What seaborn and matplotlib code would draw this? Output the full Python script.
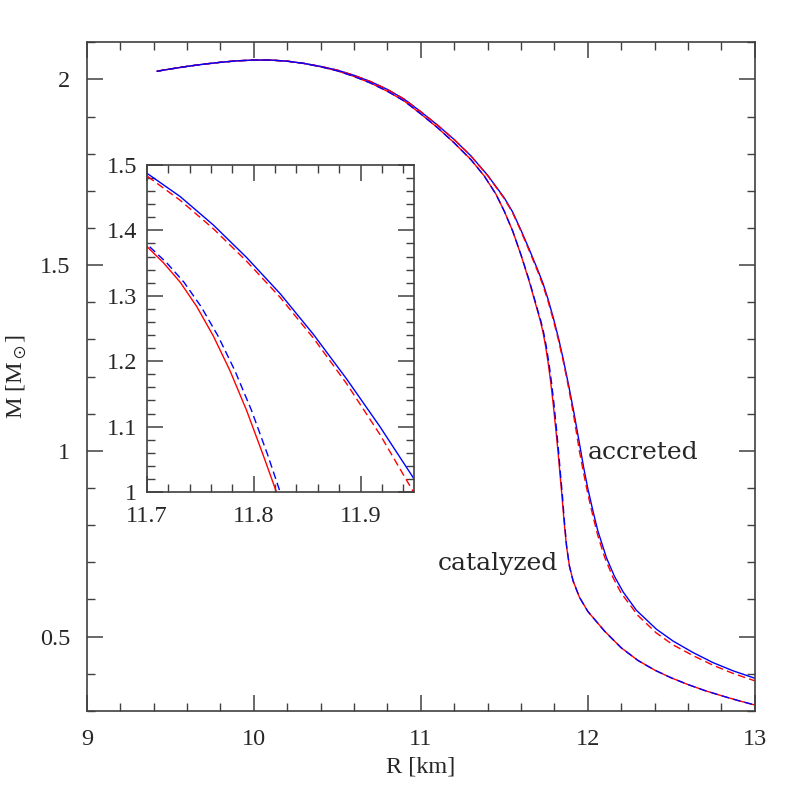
import matplotlib
matplotlib.use("Agg")
import matplotlib.pyplot as plt
from matplotlib.ticker import MultipleLocator, FuncFormatter
import seaborn as sns
import pandas as pd

# catalyzed crust: solid red / dashed blue
cat_r_solid = [9.42, 9.5, 9.6, 9.7, 9.8, 9.9, 10.0, 10.1, 10.2, 10.3, 10.4, 10.5, 10.6, 10.7,
               10.8, 10.9, 11.0, 11.1, 11.2, 11.3, 11.38, 11.45, 11.5, 11.55, 11.6, 11.65,
               11.70, 11.7155, 11.7311, 11.7466, 11.7621, 11.7777, 11.7932, 11.8087, 11.8212,
               11.832, 11.845, 11.858, 11.872, 11.89, 11.912, 11.95, 12.0, 12.1, 12.2, 12.3,
               12.4, 12.5, 12.6, 12.7, 12.8, 12.9, 13.0]
cat_m_solid = [2.022, 2.028, 2.035, 2.041, 2.046, 2.050, 2.052, 2.052, 2.049, 2.043, 2.034, 2.023,
               2.008, 1.990, 1.968, 1.942, 1.907, 1.870, 1.829, 1.784, 1.740, 1.691, 1.645,
               1.592, 1.527, 1.455, 1.3752, 1.3504, 1.3208, 1.2836, 1.2386, 1.1856, 1.1251,
               1.0569, 1.0000, 0.945, 0.880, 0.810, 0.745, 0.690, 0.650, 0.606, 0.568, 0.515,
               0.470, 0.436, 0.410, 0.389, 0.371, 0.355, 0.341, 0.328, 0.316]
cat_r_dash = [9.42, 9.5, 9.6, 9.7, 9.8, 9.9, 10.0, 10.1, 10.2, 10.3, 10.4, 10.5, 10.6, 10.7,
              10.8, 10.9, 11.0, 11.1, 11.2, 11.3, 11.38, 11.45, 11.5, 11.55, 11.6, 11.65,
              11.70, 11.7185, 11.7346, 11.7506, 11.7665, 11.7823, 11.7978, 11.8130, 11.8247,
              11.835, 11.848, 11.86, 11.873, 11.89, 11.912, 11.95, 12.0, 12.1, 12.2, 12.3,
              12.4, 12.5, 12.6, 12.7, 12.8, 12.9, 13.0]
cat_m_dash = [2.022, 2.028, 2.035, 2.041, 2.046, 2.050, 2.052, 2.052, 2.049, 2.043, 2.034, 2.023,
              2.008, 1.990, 1.968, 1.942, 1.907, 1.870, 1.829, 1.784, 1.740, 1.691, 1.645,
              1.592, 1.528, 1.458, 1.3788, 1.3504, 1.3208, 1.2836, 1.2386, 1.1856, 1.1251,
              1.0569, 1.0000, 0.945, 0.880, 0.810, 0.745, 0.690, 0.650, 0.606, 0.568, 0.515,
              0.470, 0.436, 0.410, 0.389, 0.371, 0.355, 0.341, 0.328, 0.316]

# accreted crust: solid blue / dashed red
acc_r_solid = [9.42, 9.5, 9.6, 9.7, 9.8, 9.9, 10.0, 10.1, 10.2, 10.3, 10.4, 10.5, 10.6, 10.7,
               10.8, 10.9, 11.0, 11.1, 11.2, 11.3, 11.4, 11.5, 11.55, 11.6, 11.65, 11.70,
               11.7311, 11.7621, 11.7932, 11.8249, 11.8559, 11.887, 11.9181, 11.9491, 11.975,
               12.0, 12.03, 12.06, 12.112, 12.16, 12.212, 12.291, 12.411, 12.511, 12.631,
               12.75, 12.87, 13.0]
acc_m_solid = [2.022, 2.028, 2.035, 2.041, 2.046, 2.050, 2.052, 2.052, 2.049, 2.043, 2.035, 2.025,
               2.011, 1.994, 1.973, 1.947, 1.913, 1.877, 1.838, 1.794, 1.742, 1.681, 1.643,
               1.594, 1.542, 1.4873, 1.4517, 1.4083, 1.3587, 1.3029, 1.2409, 1.1727, 1.1000,
               1.0225, 0.956, 0.899, 0.840, 0.785, 0.712, 0.662, 0.620, 0.571, 0.520, 0.488,
               0.457, 0.430, 0.408, 0.388]
acc_r_dash = [9.42, 9.5, 9.6, 9.7, 9.8, 9.9, 10.0, 10.1, 10.2, 10.3, 10.4, 10.5, 10.6, 10.7,
              10.8, 10.9, 11.0, 11.1, 11.2, 11.3, 11.4, 11.5, 11.55, 11.6, 11.65, 11.70,
              11.7311, 11.7621, 11.7932, 11.8249, 11.8559, 11.887, 11.9181, 11.9491, 11.975,
              12.0, 12.03, 12.06, 12.1, 12.15, 12.2, 12.3, 12.41, 12.51, 12.63, 12.75,
              12.87, 13.0]
acc_m_dash = [2.022, 2.028, 2.035, 2.041, 2.046, 2.050, 2.052, 2.052, 2.049, 2.043, 2.035, 2.025,
              2.011, 1.994, 1.973, 1.947, 1.913, 1.877, 1.838, 1.794, 1.741, 1.679, 1.641,
              1.591, 1.538, 1.4832, 1.4460, 1.4026, 1.3530, 1.2972, 1.2352, 1.1655, 1.0880,
              1.0012, 0.940, 0.885, 0.826, 0.772, 0.715, 0.660, 0.617, 0.557, 0.510, 0.478,
              0.449, 0.423, 0.401, 0.381]

curves = [
    (cat_r_solid, cat_m_solid, "#ff0000", "-"),
    (acc_r_solid, acc_m_solid, "#0000ff", "-"),
    (acc_r_dash, acc_m_dash, "#ff0000", "--"),
    (cat_r_dash, cat_m_dash, "#0000ff", "--"),
]

sns.set_style("ticks")
plt.rcParams["font.family"] = ["Liberation Serif", "DejaVu Serif"]
plt.rcParams["mathtext.fontset"] = "stix"

fig = plt.figure(figsize=(7.97, 7.97), dpi=100)
ax = fig.add_axes([0.109, 0.108, 0.838, 0.839])
ins = fig.add_axes([0.1844, 0.3827, 0.335, 0.4103])


def draw(a):
    for r, m, col, ls in curves:
        df = pd.DataFrame({"R": r, "M": m})
        sns.lineplot(data=df, x="R", y="M", ax=a, sort=False, estimator=None,
                     color=col, linewidth=1.0)
        line = a.lines[-1]
        if ls == "--":
            line.set_linestyle((0, (5.5, 3)))


def style(a, xmaj, xmin, ymaj, ymin, xpad, ypad):
    a.xaxis.set_major_locator(MultipleLocator(xmaj))
    a.xaxis.set_minor_locator(MultipleLocator(xmin))
    a.yaxis.set_major_locator(MultipleLocator(ymaj))
    a.yaxis.set_minor_locator(MultipleLocator(ymin))
    fmt = FuncFormatter(lambda v, p: f"{round(v, 3):g}")
    a.xaxis.set_major_formatter(fmt)
    a.yaxis.set_major_formatter(fmt)
    a.tick_params(which="both", direction="in", top=True, right=True,
                  color="0.25", labelsize=17.5)
    a.tick_params(which="major", length=11.5, width=1.1)
    a.tick_params(which="minor", length=5.8, width=1.0)
    a.tick_params(axis="x", which="major", pad=xpad)
    a.tick_params(axis="y", which="major", pad=ypad)
    for s in a.spines.values():
        s.set_visible(True)
        s.set_color("0.25")
        s.set_linewidth(1.2)
    a.set_xlabel("")
    a.set_ylabel("")


draw(ax)
ax.set_xlim(9, 13)
ax.set_ylim(0.3, 2.1)
style(ax, 1, 0.2, 0.5, 0.1, 13, 12)
ax.set_xlabel("R [km]", fontsize=17.5, labelpad=5)
ax.set_ylabel(r"M [M$_\odot$]", fontsize=17.5, labelpad=8)

ax.text(12.0, 0.995, "accreted", fontsize=18, family="DejaVu Serif", va="center", ha="left")
ax.text(11.1, 0.697, "catalyzed", fontsize=18, family="DejaVu Serif", va="center", ha="left")

draw(ins)
ins.set_xlim(11.7, 11.95)
ins.set_ylim(1.0, 1.5)
ins.set_facecolor("white")
style(ins, 0.1, 0.02, 0.1, 0.02, 10, 7)

fig.savefig("out.png", dpi=100)
